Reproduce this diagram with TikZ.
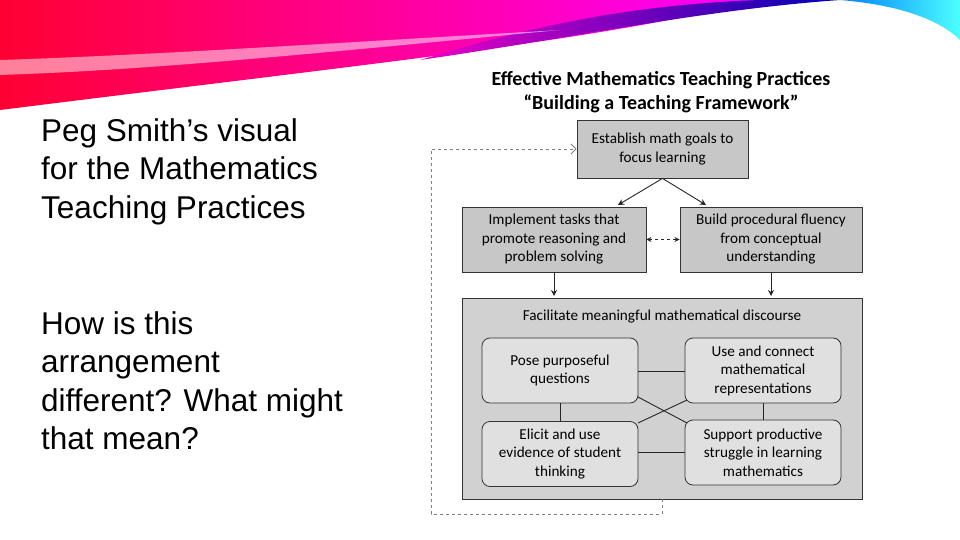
\documentclass[tikz,border=0pt]{standalone}
\usepackage{fontspec}
\setmainfont{Liberation Sans}
\newfontfamily\carlitofont{Carlito}
\usetikzlibrary{arrows.meta}
\begin{document}
\begin{tikzpicture}[x=1pt,y=-1pt,
 sq/.style={draw=black!80,fill=black!22,line width=0.8pt,align=center,font=\carlitofont\fontsize{15.2}{18.5}\selectfont,inner sep=1pt},
 rnd/.style={draw=black!80,fill=black!12,rounded corners=8pt,line width=0.8pt,align=center,font=\carlitofont\fontsize{15.2}{18.5}\selectfont,minimum width=156pt,minimum height=65pt,inner sep=1pt},
 con/.style={line width=0.9pt,black!85},
 arr/.style={con,-{Stealth[length=6pt,width=6pt]}},
 lt/.style={anchor=north west,align=left,font=\fontsize{31.5}{38.5}\selectfont}]
\useasboundingbox (0,0) rectangle (960,540);
\fill[white] (0,0) rectangle (960,540);
% swoosh
\shade[left color=red!80!magenta,right color=magenta] (0,0) -- (760,0) .. controls (600,40) and (400,60) .. (0,110) -- cycle;
\shade[left color=magenta!70!purple,right color=blue!70!black] (420,60) .. controls (520,30) and (620,5) .. (760,0) -- (840,0) .. controls (700,10) and (560,40) .. (420,60) -- cycle;
\shade[left color=blue!50!cyan,right color=cyan!70!white] (840,0) -- (960,0) -- (960,40) .. controls (940,20) and (900,5) .. (840,0) -- cycle;
\fill[white,opacity=0.5] (0,60) .. controls (150,55) and (300,45) .. (560,30) .. controls (300,55) and (150,70) .. (0,75) -- cycle;
% left text
\node[lt,inner sep=0pt] (t1) at (41,118) {Peg Smith’s visual\\for the Mathematics\\Teaching Practices};
\node[lt,inner sep=0pt] (t2) at (41,311) {How is this\\arrangement\\different? What might\\that mean?};
% title
\node[align=center,font=\carlitofont\bfseries\fontsize{20}{24}\selectfont] (title) at (661,92) {Effective Mathematics Teaching Practices\\“Building a Teaching Framework”};
% boxes
\node[sq,minimum width=171pt,minimum height=58pt] (est) at (662.5,149) {Establish math goals to\\focus learning};
\node[sq,minimum width=184pt,minimum height=65pt] (imp) at (554,239.5) {Implement tasks that\\promote reasoning and\\problem solving};
\node[sq,minimum width=182pt,minimum height=65pt] (bld) at (771,239.5) {Build procedural fluency\\from conceptual\\understanding};
\draw[draw=black!80,fill=black!18,line width=0.8pt] (462,298) rectangle (862,499);
\node[font=\carlitofont\fontsize{15.2}{18.5}\selectfont] (fac) at (662,317) {Facilitate meaningful mathematical discourse};
\node[rnd] (pose) at (560,370.5) {Pose purposeful\\questions};
\node[rnd] (use) at (763,370.5) {Use and connect\\mathematical\\representations};
\node[rnd] (eli) at (560,454) {Elicit and use\\evidence of student\\thinking};
\node[rnd] (sup) at (763,452.5) {Support productive\\struggle in learning\\mathematics};
% connectors
\draw[arr] (est.south) -- (618,205);
\draw[arr] (est.south) -- (706,205);
\draw[arr] (imp.south) -- (554,296);
\draw[arr] (bld.south) -- (771,296);
\draw[con,dashed,{Stealth[length=5pt,width=5pt]}-{Stealth[length=5pt,width=5pt]}] (imp.east) -- (bld.west);
\draw[con] (pose.east|-562,371) -- (use.west|-562,371);
\draw[con] (eli.east|-562,452) -- (sup.west|-562,452);
\draw[con] (pose.south) -- (eli.north);
\draw[con] (use.south) -- (sup.north);
\draw[con] (638,397) -- (687,423);
\draw[con] (687,400) -- (638,423);
\coordinate (l0) at (662,499);
\draw[black!50,line width=0.9pt,dashed,-{Straight Barb[length=5pt]}] (l0) -- (662,514) -- (431,514) -- (431,149) -- (est.west);
\end{tikzpicture}
\end{document}
